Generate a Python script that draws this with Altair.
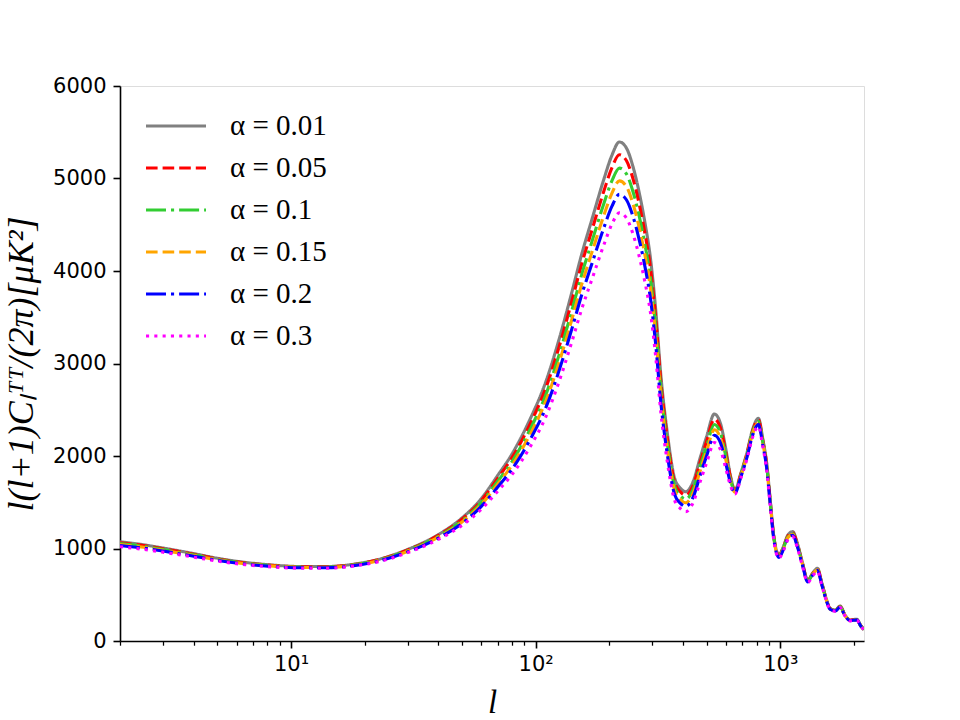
import altair as alt
import pandas as pd

# multipole grid (l)
multipoles = [2, 2.5, 3, 4, 5, 6.5, 8.5, 11, 14, 18, 23, 30, 40, 50, 60, 70, 80, 95, 110, 125,
              140, 155, 170, 190, 205, 220, 235, 250, 265, 280, 295, 310, 325, 345, 370, 390, 411,
              440, 470, 500, 538, 570, 600, 625, 653, 690, 730, 770, 814, 850, 880, 910, 940, 988,
              1030, 1075, 1125, 1175, 1230, 1296, 1360, 1419, 1480, 1540, 1598, 1680, 1756, 1840,
              1928, 2056, 2130, 2200]

alpha_001 = [1073, 1040, 1005, 945, 895, 850, 820, 805, 805, 830, 885, 990, 1150, 1330, 1540, 1790,
             2020, 2400, 2800, 3270, 3750, 4200, 4560, 4990, 5250, 5395, 5330, 5130, 4850, 4520,
             4130, 3570, 2875, 2260, 1760, 1655, 1614, 1720, 1975, 2209, 2454, 2350, 2065, 1795,
             1632, 1813, 2030, 2281, 2407, 2173, 1925, 1524, 1146, 930, 1020, 1146, 1182, 1056,
             857, 659, 738, 786, 624, 462, 353, 335, 378, 281, 227, 235, 170, 125]
alpha_005 = [1063, 1031, 997, 938, 889, 845, 816, 802, 802, 826, 881, 984, 1141, 1316, 1519, 1759,
             1980, 2346, 2732, 3188, 3654, 4093, 4443, 4862, 5116, 5257, 5194, 4999, 4726, 4404,
             4024, 3479, 2803, 2204, 1717, 1615, 1575, 1679, 1929, 2158, 2398, 2299, 2028, 1776,
             1624, 1803, 2018, 2266, 2391, 2158, 1912, 1514, 1138, 923, 1012, 1137, 1172, 1047,
             850, 654, 733, 780, 620, 459, 350, 333, 375, 279, 225, 233, 169, 124]
alpha_010 = [1053, 1022, 988, 931, 883, 841, 812, 798, 798, 823, 876, 977, 1131, 1300, 1497, 1727,
             1938, 2289, 2660, 3101, 3553, 3979, 4320, 4728, 4974, 5112, 5050, 4860, 4595, 4283,
             3913, 3382, 2726, 2145, 1672, 1573, 1534, 1636, 1880, 2104, 2340, 2246, 1989, 1755,
             1616, 1793, 2004, 2251, 2374, 2142, 1898, 1503, 1130, 917, 1004, 1127, 1162, 1038,
             843, 649, 727, 774, 615, 455, 348, 330, 372, 277, 224, 232, 167, 123]
alpha_015 = [1043, 1013, 980, 924, 878, 836, 809, 795, 795, 819, 871, 971, 1122, 1286, 1476, 1696,
             1898, 2235, 2592, 3018, 3457, 3872, 4204, 4600, 4840, 4974, 4914, 4729, 4471, 4167,
             3807, 3291, 2654, 2088, 1629, 1533, 1495, 1595, 1834, 2053, 2284, 2195, 1951, 1736,
             1609, 1783, 1992, 2236, 2358, 2128, 1885, 1492, 1122, 910, 996, 1118, 1152, 1030,
             837, 644, 722, 769, 610, 452, 345, 328, 370, 275, 222, 230, 166, 122]
alpha_020 = [1033, 1003, 972, 917, 872, 831, 805, 792, 792, 815, 867, 964, 1112, 1271, 1455, 1664,
             1856, 2178, 2520, 2931, 3356, 3759, 4081, 4466, 4698, 4828, 4770, 4591, 4340, 4045,
             3696, 3195, 2577, 2029, 1584, 1491, 1454, 1552, 1785, 2000, 2225, 2141, 1912, 1715,
             1601, 1773, 1979, 2220, 2341, 2112, 1871, 1481, 1114, 903, 988, 1108, 1142, 1021,
             830, 639, 716, 763, 606, 448, 343, 325, 367, 273, 220, 228, 165, 121]
alpha_030 = [1019, 990, 960, 907, 864, 825, 800, 787, 787, 810, 860, 955, 1098, 1250, 1425, 1620,
             1798, 2100, 2422, 2812, 3218, 3604, 3912, 4281, 4505, 4629, 4573, 4401, 4161, 3878,
             3544, 3063, 2473, 1948, 1522, 1433, 1398, 1493, 1718, 1926, 2145, 2068, 1859, 1687,
             1590, 1759, 1961, 2199, 2318, 2090, 1852, 1466, 1102, 894, 977, 1094, 1128, 1008,
             820, 633, 708, 755, 599, 444, 339, 322, 363, 270, 218, 226, 163, 120]

series_names = ["α = 0.01", "α = 0.05", "α = 0.1", "α = 0.15", "α = 0.2", "α = 0.3"]
series_values = [alpha_001, alpha_005, alpha_010, alpha_015, alpha_020, alpha_030]
colors = ["#808080", "#ff0000", "#32cd32", "#ffa500", "#0000ff", "#ff00ff"]
dashes = [[1, 0], [11.6, 5], [20, 5, 3.1, 5], [11.6, 5], [20, 5, 3.1, 5], [3.1, 5.2]]

major_ticks = [10, 100, 1000]
minor_ticks = [2, 3, 4, 5, 6, 7, 8, 9, 20, 30, 40, 50, 60, 70, 80, 90,
               200, 300, 400, 500, 600, 700, 800, 900, 2000]
y_ticks = [0, 1000, 2000, 3000, 4000, 5000, 6000]

rows = []
for name, vals in zip(series_names, series_values):
    assert len(vals) == len(multipoles)
    for l, d in zip(multipoles, vals):
        rows.append({"l": l, "D": d, "series": name})
df = pd.DataFrame(rows)

x_scale = alt.Scale(type="log", domain=[2, 2200], nice=False)
y_scale = alt.Scale(domain=[0, 6000], nice=False, zero=False)

legend = alt.Legend(
    title=None, orient="none", legendX=24, legendY=19, padding=0,
    symbolType="stroke", symbolSize=3600, symbolStrokeWidth=3.1,
    labelFont="Liberation Serif", labelFontSize=29, labelColor="black",
    labelOffset=22, rowPadding=0, clipHeight=42,
)

lines = alt.Chart(df).mark_line(strokeWidth=3.1, interpolate="monotone", clip=True).encode(
    x=alt.X("l:Q", scale=x_scale,
            axis=alt.Axis(values=major_ticks, orient="bottom", grid=False,
                          labelExpr="datum.value == 10 ? '10¹' : (datum.value == 100 ? '10²' : '10³')",
                          labelFont="DejaVu Sans", labelFontSize=21, labelColor="black",
                          labelPadding=5, tickSize=7, tickWidth=1.6, tickColor="black",
                          domainColor="black", domainWidth=1.6,
                          title="l", titleFont="Liberation Serif", titleFontStyle="italic",
                          titleFontWeight="normal", titleFontSize=33, titleColor="black",
                          titleX=372, titleY=71, titleBaseline="alphabetic")),
    y=alt.Y("D:Q", scale=y_scale,
            axis=alt.Axis(values=y_ticks, grid=False, format="d",
                          labelFont="DejaVu Sans", labelFontSize=21, labelColor="black",
                          labelPadding=7, tickSize=7, tickWidth=1.6, tickColor="black",
                          domainColor="black", domainWidth=1.6,
                          title="l(l+1)Cₗᵀᵀ/(2π)[μK²]", titleFont="Liberation Serif",
                          titleFontStyle="italic", titleFontWeight="normal", titleFontSize=36,
                          titleColor="black", titleX=-88, titleY=277.5, titleAngle=270,
                          titleBaseline="alphabetic", titleAlign="center")),
    color=alt.Color("series:N", scale=alt.Scale(domain=series_names, range=colors), legend=legend),
    strokeDash=alt.StrokeDash("series:N", scale=alt.Scale(domain=series_names, range=dashes), legend=legend),
)

minor = alt.Chart(pd.DataFrame({"l": minor_ticks})).mark_point(opacity=0).encode(
    x=alt.X("l:Q", scale=x_scale,
            axis=alt.Axis(values=minor_ticks, orient="bottom", labels=False, grid=False,
                          domain=False, tickSize=4.2, tickWidth=1.25, tickColor="black",
                          title=None)),
)

chart = alt.layer(lines, minor).resolve_axis(x="independent").properties(
    width=744, height=555,
    autosize=alt.AutoSizeParams(type="none"),
    padding={"left": 120, "top": 86, "right": 96, "bottom": 79},
).configure_view(stroke="black", strokeWidth=1.6).configure(background="white")

chart.save("out.html", embed_options={"renderer": "svg", "actions": False})
